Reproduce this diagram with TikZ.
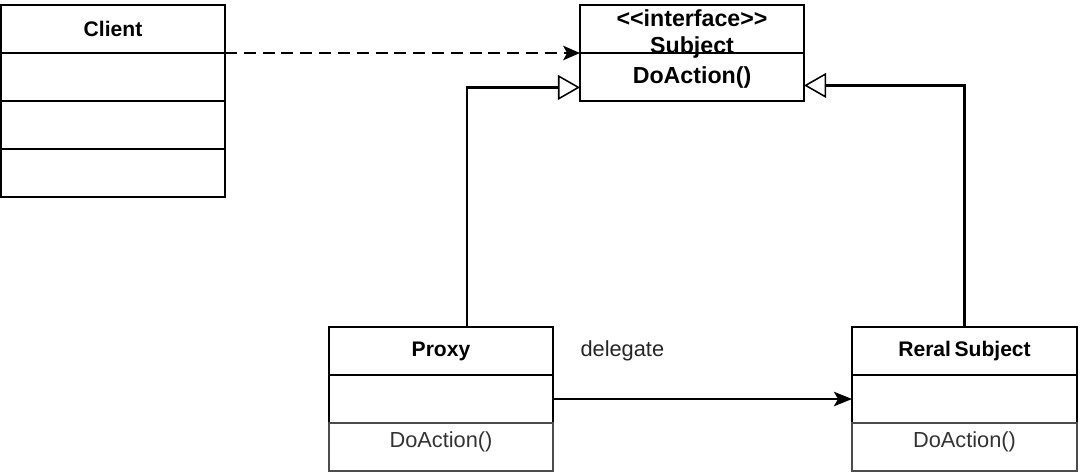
\documentclass[tikz,border=0pt]{standalone}
\usepackage{fontspec}
\setmainfont{Liberation Sans}
\usetikzlibrary{positioning,arrows.meta}

\begin{document}
\begin{tikzpicture}[
    x=0.025cm, y=-0.025cm,
    cell/.style={draw=black, line width=1.2pt, rectangle, inner sep=0pt, outer sep=0pt,
        minimum width=5.6cm, minimum height=1.2cm, font=\fontsize{15}{18}\selectfont},
    title/.style={cell, font=\bfseries\fontsize{15}{18}\selectfont},
    iface/.style={cell, align=center, font=\bfseries\fontsize{16.5}{19}\selectfont},
    ops/.style={cell, draw=black!70, text=black!80, font=\fontsize{15.5}{18}\selectfont,
        text height=0.6cm, text depth=0.575cm},
    dep/.style={line width=1.8pt, dash pattern=on 0.3cm off 0.17cm,
        -{Stealth[length=0.42cm, width=0.36cm, inset=0.1cm]}},
    realize/.style={line width=1.8pt, -{Triangle[open, length=0.55cm, width=0.62cm, line width=1.1pt]}},
    assoc/.style={line width=1.8pt, -{Stealth[length=0.45cm, width=0.36cm, inset=0.1cm]}},
    lbl/.style={font=\fontsize{15.5}{18}\selectfont, text=black!85, inner sep=0pt}
]
\useasboundingbox (0,0) rectangle (1080,473);

% Client
\node[title, anchor=north west] (client) at (1,5) {Client};
\node[cell, below=0pt of client] (client2) {};
\node[cell, below=0pt of client2] (client3) {};
\node[cell, below=0pt of client3] (client4) {};

% Subject
\node[iface, anchor=north west, text height=1.2cm, text depth=0cm] (subject) at (580,5)
    {<\kern0pt<interface>\kern0pt>\\Subject};
\node[iface, below=0pt of subject] (subjectops) {DoAction()};

% Proxy
\node[title, anchor=north west] (proxy) at (329,327) {Proxy};
\node[cell, below=0pt of proxy] (proxy2) {};
\node[ops, below=0pt of proxy2] (proxy3) {DoAction()};

% RealSubject
\node[title, anchor=north west, minimum width=5.625cm] (real) at (852,327) {Reral\,Subject};
\node[cell, below=0pt of real, minimum width=5.625cm] (real2) {};
\node[ops, below=0pt of real2, minimum width=5.625cm] (real3) {DoAction()};

% Connectors
\draw[dep] (client.south east) -- (subject.south west);
\draw[realize] ([xshift=0.65cm]proxy.north) |- ([yshift=-0.26cm]subjectops.west);
\draw[realize] (real.north) |- ([yshift=-0.21cm]subjectops.east);
\draw[assoc] (proxy2.east) -- (real2.west);
\node[lbl, anchor=west, right=0.68cm of proxy] (dlg) {delegate};

\end{tikzpicture}
\end{document}
